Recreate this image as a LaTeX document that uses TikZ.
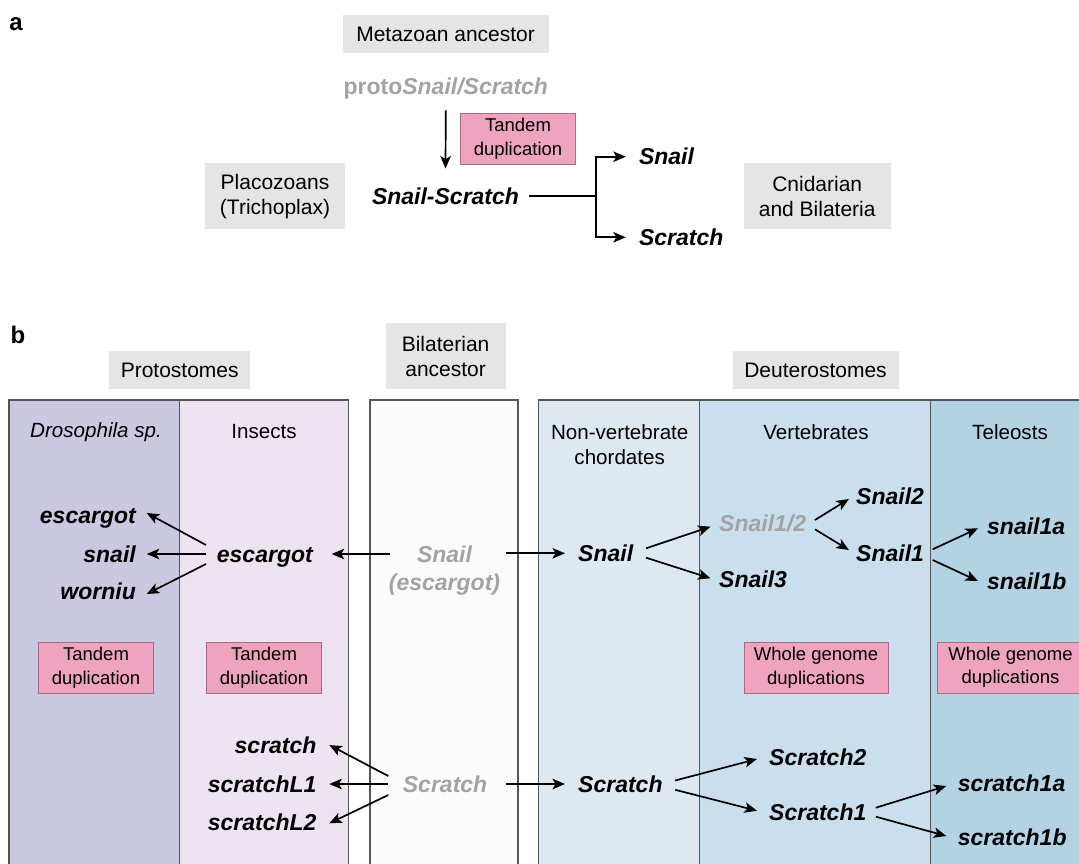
\documentclass[tikz,border=0pt]{standalone}
\usepackage{fontspec}
\setmainfont{Liberation Sans}
\usetikzlibrary{arrows.meta,calc}
\definecolor{boxgray}{HTML}{E5E5E5}
\definecolor{pinkfill}{HTML}{EEA3BE}
\definecolor{pinkdraw}{HTML}{A86A86}
\definecolor{genegray}{HTML}{A3A3A3}
\definecolor{panelline}{HTML}{555555}
\definecolor{drosfill}{HTML}{CBC8E2}
\definecolor{insfill}{HTML}{EEE4F1}
\definecolor{bilfill}{HTML}{FBFBFB}
\definecolor{nvfill}{HTML}{DDE8F0}
\definecolor{vertfill}{HTML}{C9DFED}
\definecolor{telfill}{HTML}{B3D3E5}
\begin{document}
\begin{tikzpicture}[x=1pt,y=-1pt,
  gbox/.style={fill=boxgray, inner sep=0pt, align=center, font=\fontsize{21}{25.3}\selectfont},
  pbox/.style={fill=pinkfill, draw=pinkdraw, line width=1pt, inner sep=0pt, align=center, font=\fontsize{18.5}{23.3}\selectfont, minimum height=51},
  hdr/.style={inner sep=0pt, align=center, font=\fontsize{20.6}{25}\selectfont},
  gene/.style={inner sep=0pt, text height=16.5pt, text depth=0pt, font=\fontsize{23}{28.7}\selectfont\bfseries\itshape},
  ggene/.style={gene, text=genegray},
  twoline/.style={inner sep=0pt, align=center, text=genegray, font=\fontsize{23}{28.7}\selectfont\bfseries\itshape},
  lab/.style={inner sep=0pt, font=\fontsize{24}{28}\selectfont\bfseries},
  arr/.style={line width=1.7pt, -{Stealth[length=12.5pt,width=10.5pt,inset=3pt]}},
  ln/.style={line width=1.7pt},
  pline/.style={line width=1.3pt, draw=panelline},
]
\useasboundingbox (0,0) rectangle (1079,864);
\clip (0,0) rectangle (1079,864);

% ---------------- panel a ----------------
\node[lab] (la) at (16,24) {a};
\node[gbox, minimum width=206, minimum height=38] (meta) at (445.6,34) {Metazoan ancestor};
\node[gene, text=genegray, font=\fontsize{23}{28.7}\selectfont\bfseries] (proto) at (445.8,86) {proto\textit{Snail/Scratch}};
\node[pbox, minimum width=115] (tda) at (518,138.7) {Tandem\\duplication};
\node[gbox, minimum width=140, minimum height=66] (plac) at (275,196.3) {Placozoans\\(Trichoplax)};
\node[gene] (ss) at (445.5,196) {Snail-Scratch};
\node[gene, anchor=west] (sn) at (638.8,156.7) {Snail};
\node[gene, anchor=west] (sc) at (638.8,237.3) {Scratch};
\node[gbox, minimum width=147, minimum height=66] (cnid) at (817.2,196.3) {Cnidarian\\and Bilateria};

\draw[arr] ($(proto.south)+(0,16)$) -- ($(ss.north)+(0,-19)$);
\coordinate (br) at (596,196);
\draw[ln] ($(ss.east)+(10,0)$) -- (br);
\draw[arr] (br) |- ($(sn.west)+(-13,0)$);
\draw[arr] (br) |- ($(sc.west)+(-13,0)$);

% ---------------- panel b ----------------
\node[lab] (lb) at (18,335) {b};
\node[gbox, minimum width=140.5, minimum height=38.6] (prot) at (179.7,370) {Protostomes};
\node[gbox, minimum width=120, minimum height=66] (bil) at (445.6,356.3) {Bilaterian\\ancestor};
\node[gbox, minimum width=166, minimum height=38.6] (deut) at (815.5,370) {Deuterostomes};

% panels
\fill[drosfill] (9,400) rectangle (179.3,864);
\fill[insfill] (179.3,400) rectangle (348.7,864);
\fill[bilfill] (370,400) rectangle (518,864);
\fill[nvfill] (538.7,400) rectangle (699.4,864);
\fill[vertfill] (699.4,400) rectangle (930.8,864);
\fill[telfill] (930.8,400) rectangle (1079,864);
\draw[pline] (9,864) -- (9,400) -- (348.7,400) -- (348.7,864);
\draw[pline] (179.3,400) -- (179.3,864);
\draw[pline] (370,864) -- (370,400) -- (518,400) -- (518,864);
\draw[pline] (538.7,864) -- (538.7,400) -- (1080,400);
\draw[pline] (699.4,400) -- (699.4,864);
\draw[pline] (930.8,400) -- (930.8,864);

% headers
\node[hdr, font=\fontsize{20.6}{25}\selectfont\itshape] (hdros) at (96,432.5) {Drosophila sp.};
\node[hdr] (hins) at (264,431.7) {Insects};
\node[hdr] (hnv) at (619.7,444.2) {Non-vertebrate\\chordates};
\node[hdr] (hvert) at (816,431.7) {Vertebrates};
\node[hdr] (htel) at (1010,431.7) {Teleosts};

% snail genes
\node[gene, anchor=east] (de) at (136,515) {escargot};
\node[gene, anchor=east] (ds) at (136,554) {snail};
\node[gene, anchor=east] (dw) at (136,591.7) {worniu};
\node[gene, anchor=west] (ie) at (216.7,554) {escargot};
\node[twoline] (bs) at (444.5,570.5) {Snail\\(escargot)};
\node[gene, anchor=west] (ns) at (578,553.3) {Snail};
\node[ggene, anchor=west] (s12) at (719,523.3) {Snail1/2};
\node[gene, anchor=west] (s2) at (856,496.7) {Snail2};
\node[gene, anchor=west] (s1) at (856,553.3) {Snail1};
\node[gene, anchor=west] (s3) at (719,579) {Snail3};
\node[gene, anchor=west] (s1a) at (987,526.7) {snail1a};
\node[gene, anchor=west] (s1b) at (987,581) {snail1b};

% duplication boxes
\node[pbox, minimum width=115] (td1) at (96,667.7) {Tandem\\duplication};
\node[pbox, minimum width=115] (td2) at (264,667.7) {Tandem\\duplication};
\node[pbox, minimum width=144] (wg1) at (816,667.7) {Whole genome\\duplications};
\node[pbox, minimum width=145.6] (wg2) at (1010.5,667.5) {Whole genome\\duplications};

% scratch genes
\node[gene, anchor=east] (isc) at (316.7,745.7) {scratch};
\node[gene, anchor=east] (isl1) at (316.7,784) {scratchL1};
\node[gene, anchor=east] (isl2) at (316.7,822.3) {scratchL2};
\node[ggene, anchor=west] (gsc) at (402.7,784) {Scratch};
\node[gene, anchor=west] (nsc) at (578,784) {Scratch};
\node[gene, anchor=west] (sc2) at (769,757.3) {Scratch2};
\node[gene, anchor=west] (sc1) at (769,812.7) {Scratch1};
\node[gene, anchor=west] (sc1a) at (957.7,783.3) {scratch1a};
\node[gene, anchor=west] (sc1b) at (957.7,837.3) {scratch1b};

% snail arrows
\draw[arr] ($(ie.west)+(-10.7,-9)$) -- ($(de.east)+(10.7,-2)$);
\draw[arr] ($(ie.west)+(-10.7,0)$) -- ($(ds.east)+(10.7,0)$);
\draw[arr] ($(ie.west)+(-10.7,10)$) -- ($(dw.east)+(10.7,2.3)$);
\draw[arr] ($(bs.west |- ie.east)+(1,0)$) -- ($(ie.east)+(18.7,0)$);
\draw[arr] ($(bs.east |- ns.west)+(5.7,0)$) -- ($(ns.west)+(-13,0)$);
\draw[arr] ($(ns.east)+(12.7,-5)$) -- ($(s12.west)+(-8.5,3.4)$);
\draw[arr] ($(ns.east)+(12.7,4.4)$) -- ($(s3.west)+(-8.5,-0.7)$);
\draw[arr] ($(s12.east)+(8.6,-3.3)$) -- ($(s2.west)+(-7.1,2.3)$);
\draw[arr] ($(s12.east)+(8.6,6)$) -- ($(s1.west)+(-7.1,-3.3)$);
\draw[arr] ($(s1.east)+(8.5,-4)$) -- ($(s1a.west)+(-9,1.6)$);
\draw[arr] ($(s1.east)+(8.5,6.7)$) -- ($(s1b.west)+(-9,0)$);

% scratch arrows
\draw[arr] ($(gsc.west)+(-14.4,-8)$) -- ($(isc.east)+(12.6,-0.7)$);
\draw[arr] ($(gsc.west)+(-14.4,0)$) -- ($(isl1.east)+(12.6,0)$);
\draw[arr] ($(gsc.west)+(-14.4,11)$) -- ($(isl2.east)+(12.6,1)$);
\draw[arr] ($(gsc.east)+(19,0)$) -- ($(nsc.west)+(-13,0)$);
\draw[arr] ($(nsc.east)+(12.4,-3.5)$) -- ($(sc2.west)+(-12,1.7)$);
\draw[arr] ($(nsc.east)+(12.4,5.8)$) -- ($(sc1.west)+(-12,-2)$);
\draw[arr] ($(sc1.east)+(9.3,-5)$) -- ($(sc1a.west)+(-11.4,2.7)$);
\draw[arr] ($(sc1.east)+(9.3,4)$) -- ($(sc1b.west)+(-11.4,-1.3)$);
\end{tikzpicture}
\end{document}
